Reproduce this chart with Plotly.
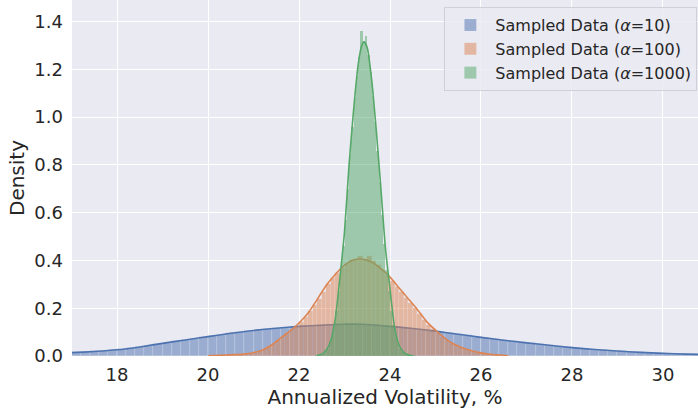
import plotly.graph_objects as go

# ---------------- data ----------------
labels = ["Sampled Data (<i>α</i>=10)", "Sampled Data (<i>α</i>=100)", "Sampled Data (<i>α</i>=1000)"]

# histogram bins: start edge, width, density heights
blue_bin_start, blue_bin_width = 16.6, 0.2
blue_hist = [0.012, 0.013, 0.015, 0.017, 0.019, 0.021, 0.024, 0.028, 0.032, 0.038,
             0.043, 0.050, 0.056, 0.061, 0.067, 0.073, 0.079, 0.084, 0.089, 0.095,
             0.100, 0.104, 0.108, 0.113, 0.116, 0.119, 0.123, 0.125, 0.127, 0.129,
             0.131, 0.133, 0.134, 0.133, 0.131, 0.128, 0.126, 0.122, 0.118, 0.115,
             0.110, 0.106, 0.101, 0.096, 0.091, 0.086, 0.080, 0.076, 0.071, 0.066,
             0.061, 0.057, 0.053, 0.049, 0.045, 0.041, 0.037, 0.033, 0.030, 0.027,
             0.025, 0.022, 0.020, 0.017, 0.015, 0.013, 0.012, 0.010, 0.009, 0.008,
             0.007, 0.006]

orange_bin_start, orange_bin_width = 20.0, 0.1
orange_hist = [0.001, 0.002, 0.002, 0.003, 0.004, 0.005, 0.006, 0.008, 0.010, 0.013,
               0.016, 0.022, 0.029, 0.040, 0.052, 0.066, 0.080, 0.095, 0.108, 0.124,
               0.142, 0.162, 0.188, 0.214, 0.240, 0.268, 0.300, 0.326, 0.348, 0.368,
               0.386, 0.400, 0.404, 0.418, 0.404, 0.420, 0.398, 0.382, 0.360, 0.338,
               0.314, 0.290, 0.266, 0.244, 0.222, 0.200, 0.176, 0.152, 0.130, 0.112,
               0.095, 0.080, 0.066, 0.054, 0.045, 0.037, 0.031, 0.025, 0.019, 0.015,
               0.011, 0.008, 0.006, 0.004, 0.003, 0.002, 0.001, 0.001]

green_bin_start, green_bin_width = 22.35, 0.05
green_hist = [0.002, 0.003, 0.005, 0.009, 0.015, 0.030, 0.050, 0.080, 0.125, 0.190,
              0.270, 0.360, 0.460, 0.570, 0.700, 0.840, 0.960, 1.080, 1.170, 1.250,
              1.360, 1.320, 1.340, 1.260, 1.190, 1.090, 0.980, 0.860, 0.730, 0.590,
              0.470, 0.360, 0.270, 0.190, 0.130, 0.085, 0.052, 0.030, 0.017, 0.010,
              0.006, 0.004, 0.002, 0.001]

# KDE curves
blue_kde_x = [16.5, 17.0, 17.5, 18.0, 18.5, 19.0, 19.5, 20.0, 20.5, 21.0, 21.5, 22.0,
              22.5, 23.0, 23.5, 24.0, 24.5, 25.0, 25.5, 26.0, 26.5, 27.0, 27.5, 28.0,
              28.5, 29.0, 29.5, 30.0, 30.5, 31.0]
blue_kde_y = [0.010, 0.014, 0.019, 0.026, 0.038, 0.053, 0.067, 0.081, 0.095, 0.107,
              0.116, 0.124, 0.129, 0.133, 0.132, 0.124, 0.115, 0.104, 0.091, 0.078,
              0.066, 0.055, 0.045, 0.035, 0.027, 0.021, 0.015, 0.011, 0.008, 0.006]

orange_kde_x = [20.0, 20.4, 20.8, 21.0, 21.2, 21.4, 21.6, 21.8, 22.0, 22.2, 22.4, 22.6,
                22.8, 23.0, 23.2, 23.4, 23.6, 23.8, 24.0, 24.2, 24.4, 24.6, 24.8, 25.0,
                25.2, 25.4, 25.6, 25.8, 26.0, 26.2, 26.4, 26.6]
orange_kde_y = [0.001, 0.004, 0.008, 0.014, 0.025, 0.046, 0.076, 0.104, 0.138, 0.180,
                0.237, 0.296, 0.342, 0.380, 0.402, 0.405, 0.393, 0.366, 0.330, 0.285,
                0.240, 0.195, 0.145, 0.108, 0.075, 0.050, 0.034, 0.022, 0.013, 0.007,
                0.004, 0.001]

green_kde_x = [22.4, 22.5, 22.6, 22.7, 22.8, 22.9, 23.0, 23.1, 23.2, 23.3, 23.38, 23.43,
               23.5, 23.6, 23.7, 23.8, 23.9, 24.0, 24.1, 24.2, 24.3, 24.4, 24.5]
green_kde_y = [0.003, 0.008, 0.025, 0.065, 0.160, 0.330, 0.520, 0.800, 1.030, 1.220,
               1.300, 1.315, 1.290, 1.150, 0.940, 0.700, 0.450, 0.280, 0.120, 0.045,
               0.015, 0.005, 0.0]

x_ticks = [18, 20, 22, 24, 26, 28, 30]
y_ticks = [0.0, 0.2, 0.4, 0.6, 0.8, 1.0, 1.2, 1.4]

# ---------------- styling ----------------
colors = ["#4C72B0", "#DD8452", "#55A868"]
edge_colors = ["rgba(255,255,255,0.35)", "rgba(255,255,255,0.25)", "rgba(85,168,104,1)"]
edge_widths = [0.4, 0.4, 0]
X_RANGE = [17.01, 30.77]
Y_RANGE = [0, 1.49]
FONT = "DejaVu Sans"
TXT = "#262626"

series = [
    (blue_bin_start, blue_bin_width, blue_hist, blue_kde_x, blue_kde_y),
    (orange_bin_start, orange_bin_width, orange_hist, orange_kde_x, orange_kde_y),
    (green_bin_start, green_bin_width, green_hist, green_kde_x, green_kde_y),
]

fig = go.Figure()
axes_suffix = ["", "2", "3"]
for i, (start, width, hist, kx, ky) in enumerate(series):
    centers = [start + width * (j + 0.5) for j in range(len(hist))]
    xa = "x" + axes_suffix[i]
    ya = "y" + axes_suffix[i]
    fig.add_trace(go.Bar(
        x=centers, y=hist, width=width, name=labels[i],
        marker=dict(color=colors[i], line=dict(color=edge_colors[i], width=edge_widths[i])),
        opacity=0.5, xaxis=xa, yaxis=ya, showlegend=True,
    ))
    fig.add_trace(go.Scatter(
        x=kx, y=ky, mode="lines", line=dict(color=colors[i], width=1.6, shape="spline", smoothing=0.6),
        xaxis=xa, yaxis=ya, showlegend=False, hoverinfo="skip",
    ))

overlay_x = dict(range=X_RANGE, visible=False, overlaying="x", anchor="y")
overlay_y = dict(range=Y_RANGE, visible=False, overlaying="y", anchor="x")

fig.update_layout(
    width=698, height=412,
    margin=dict(l=72, r=0, t=0, b=56),
    paper_bgcolor="white",
    plot_bgcolor="#EAEAF2",
    barmode="overlay",
    bargap=0,
    font=dict(family=FONT, color=TXT, size=18),
    xaxis=dict(
        range=X_RANGE, tickvals=x_ticks, ticktext=[str(v) for v in x_ticks],
        showgrid=True, gridcolor="white", gridwidth=1, zeroline=False,
        showline=False, ticks="", tickfont=dict(size=18, color=TXT), ticklabelstandoff=6,
        title=dict(text="Annualized Volatility, %", font=dict(size=20, color=TXT), standoff=4),
    ),
    yaxis=dict(
        range=Y_RANGE, tickvals=y_ticks, ticktext=[f"{v:.1f}" for v in y_ticks],
        showgrid=True, gridcolor="white", gridwidth=1, zeroline=False,
        showline=False, ticks="", tickfont=dict(size=18, color=TXT), ticklabelstandoff=8,
        title=dict(text="Density", font=dict(size=20, color=TXT), standoff=4),
    ),
    xaxis2=overlay_x, yaxis2=overlay_y,
    xaxis3=overlay_x, yaxis3=overlay_y,
    legend=dict(
        x=0.999, y=0.98, xanchor="right", yanchor="top",
        bgcolor="rgba(234,234,242,0.8)", bordercolor="#D0D0D8", borderwidth=1,
        font=dict(size=16, color=TXT), tracegroupgap=0, itemwidth=40,
    ),
)

fig.write_html("out.html")
